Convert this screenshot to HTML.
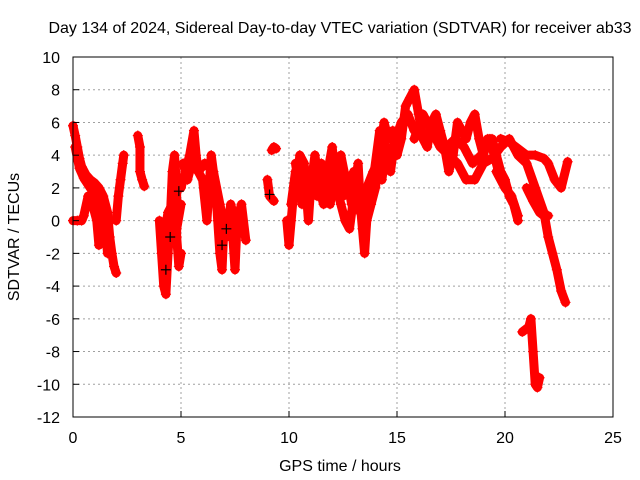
<!DOCTYPE html>
<html><head><meta charset="utf-8"><style>
body{margin:0;background:#fff}
svg{display:block}
text{font-family:"Liberation Sans",sans-serif;font-size:16px;fill:#000}
</style></head><body>
<svg id="chart" width="640" height="480" viewBox="0 0 640 480">
<text x="340" y="33" text-anchor="middle">Day 134 of 2024, Sidereal Day-to-day VTEC variation (SDTVAR) for receiver ab33</text>
<text transform="translate(19,237) rotate(-90)" text-anchor="middle">SDTVAR / TECUs</text>
<text x="340" y="471" text-anchor="middle">GPS time / hours</text>
<g id="grid"></g>
<g id="marks"></g>
<rect x="73" y="57" width="540" height="360" fill="none" stroke="#000" stroke-width="1"/>
<g id="axes"></g>
</svg>
<script>
const xTicks=[0,5,10,15,20,25];
const yTicks=[10,8,6,4,2,0,-2,-4,-6,-8,-10,-12];
const t1h=[0,0.1,0.2,0.3,0.4,0.6,0.8,1.0,1.2,1.4,1.6,1.7,1.8,1.9,2.0];
const t1v=[5.8,5.2,4.5,3.8,3.3,2.8,2.5,2.3,2.0,1.5,0.5,-1,-2,-2.8,-3.2];
const t1bh=[0.1,0.3,0.5,0.7,0.9,1.1,1.3,1.5,1.6];
const t1bv=[4.5,3.2,2.6,2.2,1.8,1.2,0.5,-0.5,-2];
const t2h=[0,0.2,0.4,0.5,0.7,0.9,1.1,1.2];
const t2v=[0,0,0,0.3,1.5,1.0,0,-1.5];
const t3h=[2.0,2.1,2.2,2.3,2.35];
const t3v=[0,1.5,2.5,3.5,4];
const t4h=[3.0,3.1,3.1,3.2,3.3];
const t4v=[5.2,4.5,3.0,2.5,2.1];
const t5h=[4.0,4.1,4.2,4.3,4.4,4.5,4.6,4.7,4.8,4.8,4.9,5.0];
const t5v=[0,-2,-4,-4.5,-2,0,3,4,2,-1,-2.8,-2];
const t5bh=[4.2,4.4,4.6,4.8,5.0];
const t5bv=[-1,0.5,1,-0.5,1];
const t6h=[5.0,5.2,5.4,5.6,5.7,5.8,6.0,6.2,6.3,6.4,6.6,6.7,6.8,6.9,7.0,7.2,7.4,7.5,7.6,7.8,8.0];
const t6v=[2,3,4,5.5,4,3,2.5,0,2,4,2,0,-2,-3,0,0,-1,-3,0,1,-1.2];
const t6bh=[5.1,5.3,5.5,5.8,6.1,6.5,6.8,7.1,7.3,7.6];
const t6bv=[3.5,2.5,3.5,3,3.5,3,1,-1,1,-0.5];
const t7h=[9.0,9.1,9.3];
const t7v=[2.5,1.5,1.2];
const t7bh=[9.2,9.3,9.4];
const t7bv=[4.3,4.5,4.4];
const t8h=[9.9,10.0,10.1,10.2,10.4,10.5,10.7,10.9,11.0,11.2,11.4,11.6,11.8,12.0,12.2,12.4,12.6,12.8,13.0,13.2,13.3,13.4,13.5,13.6,13.8,14.0,14.2,14.4,14.6,14.8,15.0,15.2,15.4,15.6,15.8,16.0,16.2,16.4,16.6,16.8,17.0,17.2,17.4,17.6,17.8,18.0,18.2,18.4,18.6,18.8,19.0,19.2,19.4,19.6,19.8,20.0,20.2,20.4,20.6];
const t8v=[0,-1.5,0,1.5,2.5,4,3.5,0,2,4,2,1,3,4.5,2,1,0,-0.5,1.5,3.5,1,-0.5,-2,0,1,2,4,6,5,5.5,4,5,7,7.5,8,6.5,5,4.5,6,6.5,5.5,4.5,3,4,6,5.5,5,6,6.5,5,4,5,5,4,3,2.5,1.5,1,0];
const t8bh=[10.1,10.3,10.6,10.8,11.1,11.3,11.5,11.7,11.9,12.1,12.3,12.5,12.7,12.9,13.1,13.3,13.6,13.9,14.1,14.3,14.5,14.7,14.9];
const t8bv=[1,3,2,1,3,1.5,3,2,1,2.5,3,1.5,2.5,1,2,0.5,2,3,3.5,2.5,4.5,3,5];
const t8ch=[10.3,10.6,10.9,11.2,11.5,11.8,12.1,12.4,12.7,13.0,13.3,13.6,13.9,14.2,14.5];
const t8cv=[3.5,1,2.5,3,3.5,1.5,3.5,4,2,3,2,1.5,2.5,5.5,3.5];
const t9h=[15.8,16.2,16.6,17.0,17.4,17.8,18.2,18.6,19.0,19.4,19.8,20.2,20.6,21.0,21.4,21.8,22.0,22.2,22.4,22.6,22.8];
const t9v=[5,6.5,5.5,4.5,4,3.5,2.5,2.5,3.5,3.8,4.5,5,4,3.5,2,0.5,-1,-2,-3,-4.3,-5];
const t9bh=[14.8,15.2,15.5,15.8,16.1,16.5,16.9,17.3,17.7,18.1,18.5,18.9,19.3,19.7,20.1];
const t9bv=[4.5,6,6.5,5.5,6,6,5,4.5,5,4.5,3.5,4,5,3,2];
const t10h=[19.8,20.2,20.6,21.0,21.4,21.8,22.0,22.3,22.6,22.9];
const t10v=[5,4.8,4.4,4,4,3.8,3.5,2.5,2,3.6];
const t11h=[21.0,21.3,21.6,21.8,22.0];
const t11v=[2,1.2,0.5,0.3,0.3];
const t11bh=[19.6,20.0,20.3,20.6];
const t11bv=[3,2,1.5,0.3];
const t12h=[20.8,21.1,21.2,21.3,21.4,21.5,21.6];
const t12v=[-6.8,-6.5,-6,-8,-10,-10.2,-9.6];
const blackH=[4.3,4.5,6.9,7.1,9.1,4.9];
const blackV=[-3,-1,-1.5,-0.5,1.6,1.8];

const NS='http://www.w3.org/2000/svg';
const X=h=>73+h*21.6;
const Y=v=>57+(10-v)*(360/22);
const grid=document.getElementById('grid'),axes=document.getElementById('axes'),marks=document.getElementById('marks');
function mk(tag,attrs,parent){const e=document.createElementNS(NS,tag);for(const k in attrs)e.setAttribute(k,attrs[k]);parent.appendChild(e);return e;}
xTicks.forEach(t=>{
  if(t>0&&t<25){const g=mk('line',{x1:X(t),x2:X(t),y1:57,y2:417,stroke:'#a0a0a0','stroke-dasharray':'2,3'},grid);
  
  }
  const tk=mk('line',{x1:X(t),x2:X(t),y1:417,y2:411,stroke:'#000'},axes);
  
  
  const tx=mk('text',{x:X(t),y:443,'text-anchor':'middle'},axes);tx.textContent=t;
  
  
});
yTicks.forEach(t=>{
  if(t<10&&t>-12){const g=mk('line',{x1:73,x2:613,y1:Y(t),y2:Y(t),stroke:'#a0a0a0','stroke-dasharray':'2,3'},grid);
  
  }
  const tk=mk('line',{x1:73,x2:79,y1:Y(t),y2:Y(t),stroke:'#000'},axes);
  
  
  const tx=mk('text',{x:60,y:Y(t)+6,'text-anchor':'end'},axes);tx.textContent=t;
  
  
});
const tracks=[[t1h,t1v],[t1bh,t1bv],[t2h,t2v],[t3h,t3v],[t4h,t4v],[t5h,t5v],[t5bh,t5bv],[t6h,t6v],[t6bh,t6bv],[t7h,t7v],[t7bh,t7bv],[t8h,t8v],[t8bh,t8bv],[t8ch,t8cv],[t9h,t9v],[t9bh,t9bv],[t10h,t10v],[t11h,t11v],[t11bh,t11bv],[t12h,t12v]];
function cross(h,v,col){
  const x=X(h),y=Y(v);
  const p=mk('path',{d:`M${x-5} ${y}H${x+5}M${x} ${y-5}V${y+5}`,stroke:col,'stroke-width':1.2},marks);
  
  
}
tracks.forEach(([hs,vs])=>{
  const pl=mk('polyline',{points:hs.map((h,i)=>X(h)+','+Y(vs[i])).join(' '),fill:'none',stroke:'#ff0000','stroke-width':9,'stroke-linejoin':'round','stroke-linecap':'round'},marks);
  
  
  hs.forEach((h,i)=>cross(h,vs[i],'#ff0000'));
});
blackH.forEach((h,i)=>cross(h,blackV[i],'#000'));
</script>
</body></html>
